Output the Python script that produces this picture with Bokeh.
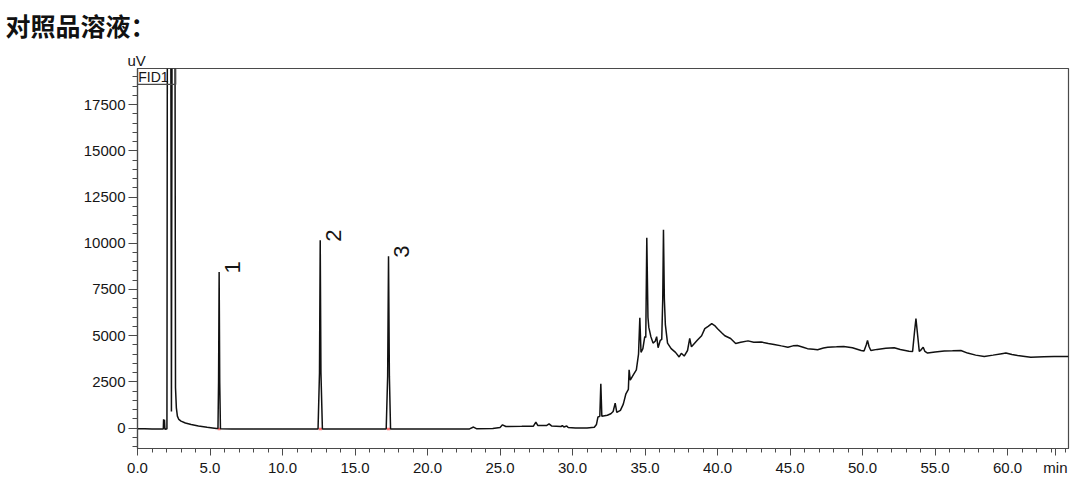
import math
from bokeh.plotting import figure
from bokeh.models import FixedTicker, PrintfTickFormatter, Label, Range1d, Title
from bokeh.core.properties import value
from bokeh.embed import file_html
from bokeh.resources import INLINE

# ---- data ----
time_min = [
    0.0, 0.5, 1.0, 1.5, 1.78, 1.80, 1.83, 1.86, 1.89, 1.98, 2.03, 2.07, 2.28, 2.34, 2.40, 2.57,
    2.62, 2.68, 2.75, 2.85, 3.0, 3.3, 3.7, 4.2, 4.8, 5.3, 5.45, 5.55, 5.59, 5.63, 5.67, 5.72,
    6.5, 8.0, 10.0, 12.0, 12.45, 12.55, 12.60, 12.65, 12.75, 14.0, 16.0, 17.15, 17.25, 17.31,
    17.37, 17.45, 19.0, 21.0, 22.9, 23.17, 23.4, 24.5, 25.0, 25.17, 25.4, 26.5, 27.3, 27.47,
    27.6, 28.2, 28.38, 28.55, 29.2, 29.3, 29.4, 29.6, 29.7, 30.2, 31.0, 31.5, 31.65, 31.75,
    31.88, 31.95, 32.02, 32.4, 32.64, 32.8, 32.94, 33.05, 33.3, 33.5, 33.68, 33.85, 33.9,
    33.98, 34.2, 34.4, 34.55, 34.64, 34.72, 34.85, 34.98, 35.05, 35.12, 35.2, 35.26, 35.4,
    35.55, 35.7, 35.8, 35.9, 36.05, 36.15, 36.22, 36.27, 36.33, 36.4, 36.55, 36.8, 37.1,
    37.35, 37.5, 37.7, 37.93, 38.08, 38.2, 38.6, 38.9, 39.12, 39.35, 39.6, 39.8, 40.0, 40.3,
    40.5, 40.9, 41.25, 41.6, 42.1, 42.5, 43.0, 43.5, 43.9, 44.4, 44.85, 45.2, 45.5, 45.9,
    46.2, 46.6, 46.9, 47.3, 47.6, 48.2, 48.7, 49.3, 49.9, 50.1, 50.25, 50.34, 50.45, 50.57,
    51.0, 51.6, 52.18, 52.6, 53.2, 53.45, 53.58, 53.68, 53.8, 53.91, 54.05, 54.18, 54.3,
    54.48, 55.0, 55.63, 56.2, 56.78, 57.24, 57.8, 58.39, 59.0, 59.6, 59.88, 60.3, 60.69,
    61.2, 61.6, 62.5, 63.2, 64.2,
]
signal_uv = [
    -30, -35, -40, -45, -45, 480, 120, 450, -60, -50, -30, 30000, 30000, 900, 30000, 30000,
    2200, 1100, 650, 470, 380, 280, 200, 120, 50, 0, -20, -20, 2500, 8440, 2500, -30,
    -40, -45, -50, -50, -50, 3000, 10160, 3000, -45, -45, -45, -45, 2800, 9290,
    2800, -45, -40, -45, -40, 60, -35, -20, 40, 180, 90, 100, 110, 330,
    150, 140, 230, 120, 90, 140, 60, 120, 40, 10, 10, 50, 200, 600,
    640, 2400, 640, 700, 780, 900, 1350, 850, 960, 1300, 1860, 2100, 3160,
    2600, 2900, 3150, 4000, 5970, 4100, 4300, 4950, 4900, 10300, 6000, 5450, 4950,
    4600, 4700, 4950, 4350, 4750, 4800, 7000, 10730, 7000, 5600, 4600, 4300, 4100,
    3850, 4050, 3900, 4200, 4850, 4400, 4750, 5000, 5380, 5500, 5650, 5550, 5380, 5150,
    5000, 4850, 4580, 4650, 4720, 4650, 4660, 4580, 4530, 4450, 4380, 4450, 4470, 4380,
    4300, 4270, 4240, 4330, 4380, 4400, 4420, 4350, 4200, 4170, 4500, 4740, 4400, 4200,
    4260, 4320, 4350, 4250, 4160, 4150, 5200, 5920, 5000, 4150, 4250, 4380, 4150,
    4060, 4120, 4170, 4180, 4200, 4060, 3950, 3880, 3950, 4030, 4060, 3980, 3930,
    3880, 3840, 3860, 3870, 3870,
]

peak_names = ["1", "2", "3"]
peak_rt = [5.63, 12.60, 17.31]
peak_height = [8440, 10160, 9290]
peak_start = [5.53, 12.50, 17.20]
peak_end = [5.73, 12.72, 17.43]

x_major_ticks = [0, 5, 10, 15, 20, 25, 30, 35, 40, 45, 50, 55, 60]
x_minor_ticks = list(range(0, 65))
y_major_ticks = [0, 2500, 5000, 7500, 10000, 12500, 15000, 17500]
y_minor_ticks = list(range(-1000, 19500, 500))

title_text = "对照品溶液："
y_unit = "uV"
x_unit = "min"
x_unit_pos = 63.3
channel = "FID1"

# ---- figure ----
AX = "#4a4a4a"
TXT = "#161616"
FONT = "Liberation Sans"

p = figure(width=1080, height=484, output_backend="svg", toolbar_location=None,
           x_range=Range1d(0, 64.2), y_range=Range1d(-1100, 19450), title_location=None,
           min_border_left=137, min_border_right=12, min_border_top=68, min_border_bottom=36)
p.grid.visible = False
p.outline_line_color = AX
p.outline_line_width = 1.2
p.background_fill_color = "white"
p.border_fill_color = "white"

# unit "uV" (closest to frame) then main heading above it
p.add_layout(Title(text=y_unit, text_font=FONT, text_font_size="15px", text_font_style="normal",
                   text_color=TXT, align="left", offset=-10, standoff=0,
                   vertical_align="bottom"), "above")
p.add_layout(Title(text=title_text, text_font="Noto Sans CJK SC", text_font_size="25px",
                   text_font_style="bold", text_color="#111111", align="left", offset=-132,
                   standoff=9, vertical_align="top"), "above")

xa = p.xaxis[0]
xa.ticker = FixedTicker(ticks=x_major_ticks + [x_unit_pos], minor_ticks=x_minor_ticks)
xa.formatter = PrintfTickFormatter(format="%.1f")
xa.major_label_overrides = {x_unit_pos: x_unit}

ya = p.yaxis[0]
ya.ticker = FixedTicker(ticks=y_major_ticks, minor_ticks=y_minor_ticks)

for ax, mo, mi in ((xa, 7, 4), (ya, 9, 5)):
    ax.axis_line_color = AX
    ax.axis_line_width = 1.2
    ax.major_tick_line_color = AX
    ax.minor_tick_line_color = AX
    ax.major_tick_in = 0
    ax.minor_tick_in = 0
    ax.major_tick_out = mo
    ax.minor_tick_out = mi
    ax.major_label_text_font = FONT
    ax.major_label_text_font_size = "15px"
    ax.major_label_text_color = TXT
    ax.major_label_standoff = 3

# peak baseline markers
p.segment(x0=peak_start, y0=[-40] * 3, x1=peak_end, y1=[-40] * 3,
          line_color="#ff7070", line_width=2.5)

# chromatogram trace
p.line(time_min, signal_uv, line_color="#111111", line_width=1.5)

# peak number labels
p.text(x=[t + 0.9 for t in peak_rt], y=[h - 80 for h in peak_height], text=peak_names,
       angle=math.pi / 2, text_align="left", text_baseline="alphabetic",
       text_font=value(FONT), text_font_size="22px", text_color=TXT)

# channel box
p.quad(left=[0], right=[2.64], top=[19450], bottom=[18590], fill_color=None,
       line_color=AX, line_width=1.1)
p.add_layout(Label(x=0.05, y=18990, text=channel, text_baseline="middle", text_align="left",
                   text_font=FONT, text_font_size="14px", text_color=TXT))

open("out.html", "w").write(file_html(p, INLINE))
